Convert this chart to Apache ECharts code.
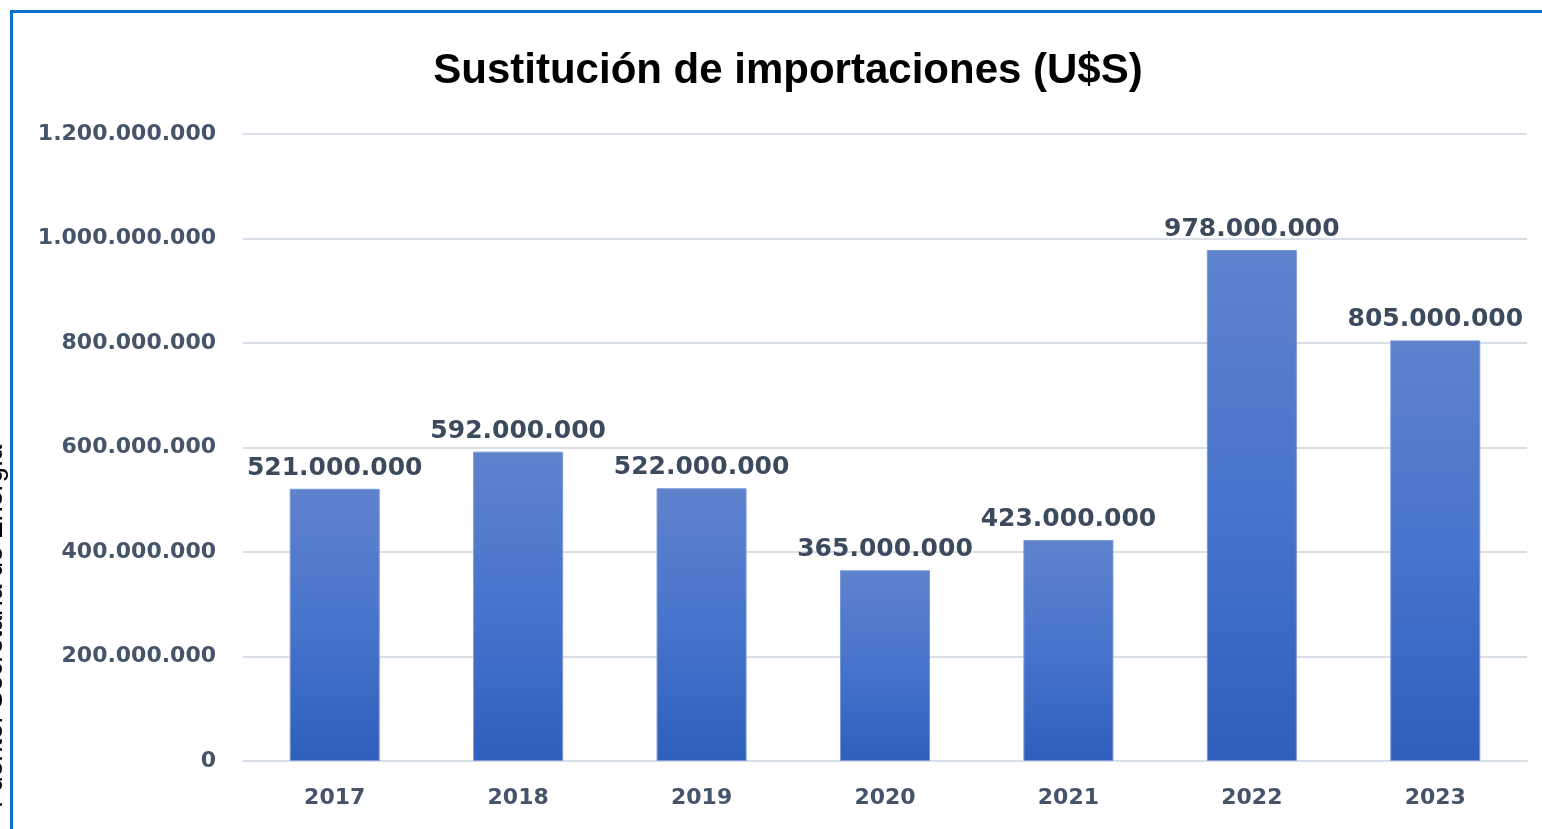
<!DOCTYPE html>
<html>
<head>
<meta charset="utf-8">
<script src="https://cdn.jsdelivr.net/npm/echarts@6/dist/echarts.min.js"></script>
<style>
* { margin: 0; padding: 0; }
html, body { width: 1542px; height: 829px; background: #fff; overflow: hidden; }
#chart { width: 1542px; height: 829px; }
</style>
</head>
<body>
<div id="chart"></div>
<script>
// datos
var years = ["2017", "2018", "2019", "2020", "2021", "2022", "2023"];
var importSubstitution = [521000000, 592000000, 522000000, 365000000, 423000000, 978000000, 805000000];
var yTicks = [0, 200000000, 400000000, 600000000, 800000000, 1000000000, 1200000000];

function fmt (v) {
  return String(v).replace(/\B(?=(\d{3})+(?!\d))/g, ".");
}

var chart = echarts.init(document.getElementById("chart"));
chart.setOption({
  animation: false,
  title: {
    text: "Sustitución de importaciones (U$S)",
    left: 783,
    textAlign: "center",
    top: 45,
    textStyle: {
      fontFamily: "Liberation Sans",
      fontWeight: "bold",
      fontSize: 42,
      color: "#000"
    }
  },
  graphic: [
    {
      type: "rect",
      shape: { x: 11.5, y: 11.5, width: 1560, height: 860 },
      style: { fill: "none", stroke: "#0b6fc6", lineWidth: 3 }
    },
    {
      type: "text",
      x: 8,
      y: 808,
      rotation: Math.PI / 2,
      style: {
        text: "Fuente: Secretaría de Energía",
        font: "27px 'Liberation Sans'",
        fill: "#000",
        align: "left",
        verticalAlign: "bottom"
      }
    }
  ],
  grid: {
    left: 243,
    right: 15,
    top: 134,
    bottom: 68,
    containLabel: false
  },
  xAxis: {
    type: "category",
    data: years,
    axisLine: { lineStyle: { color: "#d9dfe8", width: 2 } },
    axisTick: { show: false },
    axisLabel: {
      margin: 26,
      fontFamily: "DejaVu Sans",
      fontWeight: "bold",
      fontSize: 22,
      color: "#44546a"
    }
  },
  yAxis: {
    type: "value",
    min: yTicks[0],
    max: yTicks[yTicks.length - 1],
    interval: 200000000,
    axisLine: { show: false },
    axisTick: { show: false },
    splitLine: { lineStyle: { color: "#d9dfe8", width: 2 } },
    axisLabel: {
      margin: 27,
      fontFamily: "DejaVu Sans",
      fontWeight: "bold",
      fontSize: 22,
      color: "#44546a",
      formatter: fmt
    }
  },
  series: [
    {
      type: "bar",
      data: importSubstitution,
      barWidth: 90,
      itemStyle: {
        color: new echarts.graphic.LinearGradient(0, 0, 0, 1, [
          { offset: 0, color: "#5f82cc" },
          { offset: 0.5, color: "#4774cc" },
          { offset: 1, color: "#2e5fbc" }
        ]),
        borderColor: "#7a98d8",
        borderWidth: 1
      },
      label: {
        show: true,
        position: "top",
        distance: 8,
        fontFamily: "DejaVu Sans",
        fontWeight: "bold",
        fontSize: 25,
        color: "#3b4a5c",
        formatter: function (p) { return fmt(p.value); }
      }
    }
  ]
});
</script>
</body>
</html>
